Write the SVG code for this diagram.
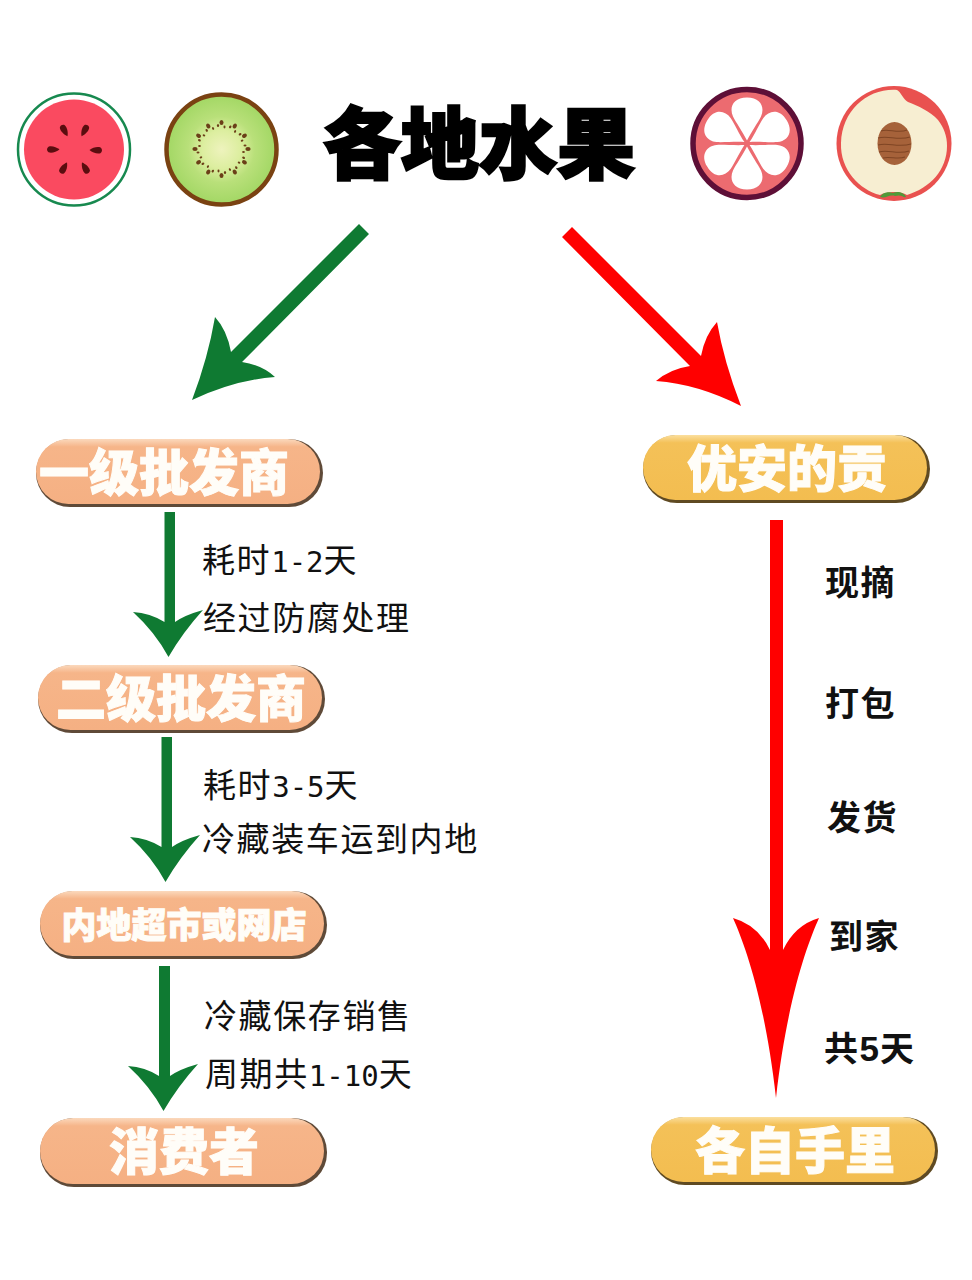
<svg xmlns="http://www.w3.org/2000/svg" width="972" height="1280" viewBox="0 0 972 1280">
<style>
.cjk{font-family:"Noto Sans CJK SC","Noto Sans CJK JP",sans-serif}
.title{font-size:78px;font-weight:900;fill:#000;stroke:#000;stroke-width:2.5px;text-anchor:middle}
.pt{font-weight:900;fill:#fffdf8;stroke:#fffdf8;stroke-width:1px;text-anchor:middle}
.lb{font-size:33px;fill:#111;letter-spacing:1.6px}
.lb tspan{letter-spacing:0;font-size:29px;font-family:"DejaVu Sans Mono",monospace}
.rl{font-size:34px;font-weight:700;fill:#111;letter-spacing:1.600px}
.rl tspan{font-family:"Liberation Sans",sans-serif;letter-spacing:1px;font-size:35px}
.g{fill:#0f7a32}.r{fill:#ff0000}
</style>
<defs>
<linearGradient id="og" x1="0" y1="0" x2="0" y2="1"><stop offset="0" stop-color="#fbd9bd"/><stop offset="0.12" stop-color="#f6b589"/><stop offset="1" stop-color="#f5b083"/></linearGradient>
<linearGradient id="yg" x1="0" y1="0" x2="0" y2="1"><stop offset="0" stop-color="#fbdf9e"/><stop offset="0.12" stop-color="#f4c158"/><stop offset="1" stop-color="#f3bd50"/></linearGradient>
<radialGradient id="kw"><stop offset="0" stop-color="#eef3bd"/><stop offset="0.35" stop-color="#dcee9f"/><stop offset="0.6" stop-color="#b9e07a"/><stop offset="1" stop-color="#a2d764"/></radialGradient>
<path id="ws" d="M0,-15 C2.500,-18 4,-23 2.800,-26 C1.500,-28 -1.500,-28 -2.800,-26 C-4,-23 -2.500,-18 0,-15Z" fill="#5a0d0f"/>
<g id="ks" fill="#6b3f18"><ellipse cx="0" cy="-26.500" rx="2" ry="2.600"/><ellipse cx="-3.500" cy="-23.500" rx="1.100" ry="1.500"/><ellipse cx="3" cy="-22" rx="1" ry="1.400"/></g>
<path id="pe" d="M0,-3 C-4,-11 -11,-21 -14,-27 C-18,-36 -14,-46 0,-46 C14,-46 18,-36 14,-27 C11,-21 4,-11 0,-3Z" fill="#fff"/>
</defs>
<rect width="972" height="1280" fill="#fff"/>

<g id="watermelon">
<circle cx="74" cy="149.500" r="56" fill="#fff" stroke="#17894f" stroke-width="2.500"/>
<circle cx="74" cy="149.500" r="50" fill="#fa4a60"/>
<g transform="translate(74.500,149.500)"><use href="#ws" transform="rotate(-28)"/><use href="#ws" transform="rotate(28)"/><use href="#ws" transform="rotate(92)"/><use href="#ws" transform="rotate(150)"/><use href="#ws" transform="rotate(-150)"/><use href="#ws" transform="rotate(-90)"/></g>
</g>
<g id="kiwi">
<circle cx="221.500" cy="149.500" r="55" fill="url(#kw)" stroke="#7a4212" stroke-width="4.500"/>
<g transform="translate(221.500,149)"><use href="#ks"/><use href="#ks" transform="rotate(30)"/><use href="#ks" transform="rotate(60)"/><use href="#ks" transform="rotate(90)"/><use href="#ks" transform="rotate(120)"/><use href="#ks" transform="rotate(150)"/><use href="#ks" transform="rotate(180)"/><use href="#ks" transform="rotate(210)"/><use href="#ks" transform="rotate(240)"/><use href="#ks" transform="rotate(270)"/><use href="#ks" transform="rotate(300)"/><use href="#ks" transform="rotate(330)"/></g>
</g>
<g id="title"><text class="cjk title" x="479" y="173">各地水果</text></g>
<g id="mangosteen">
<circle cx="747" cy="143.500" r="54" fill="#ec6b70" stroke="#5e0f37" stroke-width="5.500"/>
<g transform="translate(747,143.500)"><use href="#pe"/><use href="#pe" transform="rotate(60)"/><use href="#pe" transform="rotate(120)"/><use href="#pe" transform="rotate(180)"/><use href="#pe" transform="rotate(240)"/><use href="#pe" transform="rotate(300)"/></g>
</g>
<g id="peach">
<circle cx="894" cy="143.500" r="57.500" fill="#e9514f"/>
<path d="M897,90 C868,88 842,110 841,143 C840,170 860,190 880,195 C885,192 900,190 907,195 C930,188 947,170 947,146 C947,136 944,128 938,120 C930,111 918,106 908,102 C903,99 901,92 897,90Z" fill="#f7eed2"/>
<path d="M880,197 C884,191 890,192 893,193 C897,191 904,192 906,197 C903,198 902,194 895,196 C889,194 886,199 880,197Z" fill="#4f9a38"/>
<ellipse cx="894.500" cy="143.500" rx="17" ry="21.500" fill="#a6623a"/>
<path d="M881,131 C888,128 898,134 907,130 M878,138 C888,135 898,141 910,137 M878,145 C888,142 898,148 911,144 M879,152 C888,149 898,155 909,151 M883,158 C890,156 898,160 905,157" stroke="#7f4524" stroke-width="1.100" fill="none"/>
</g>

<g id="connectors">
<path class="g" d="M359,224 L369,234 L242,362 Q262,365 275,377 Q235,380 192,400 Q208,358 215,317 Q227,330 231,352Z"/>
<path class="r" d="M572,227 L562,237 L690,366 Q670,369 656,381 Q698,384 741,406 Q724,362 717,322 Q705,335 701,356Z"/>
<path class="g" d="M164.500,512 H175 V622 Q185,615 203,610 Q183,632 168.500,657 Q155,632 133,612 Q150,613 164.500,622Z"/>
<path class="g" d="M161.500,737 H172 V847 Q182,840 200,835 Q180,857 165.500,882 Q152,857 130,837 Q147,838 161.500,847Z"/>
<path class="g" d="M159,966 H170 V1076 Q180,1069 198,1064 Q178,1086 163.500,1111 Q150,1086 128,1066 Q145,1067 159,1076Z"/>
<path class="r" d="M770,520 H783 V950 Q795,925 819,918 C807,945 787,1000 776,1098 C765,1000 745,945 733,918 Q758,925 770,950Z"/>
</g>

<g id="n1" transform="translate(36,439)"><rect width="287" height="68" rx="34" fill="#5f4a38"/><rect width="284" height="65" rx="32.500" fill="url(#og)"/><text class="cjk pt" x="128" y="52" font-size="50">一级批发商</text></g>
<g id="n2" transform="translate(38,665)"><rect width="287" height="68" rx="34" fill="#5f4a38"/><rect width="284" height="65" rx="32.500" fill="url(#og)"/><text class="cjk pt" x="143" y="52" font-size="50">二级批发商</text></g>
<g id="n3" transform="translate(40,891)"><rect width="287" height="68" rx="34" fill="#5f4a38"/><rect width="284" height="65" rx="32.500" fill="url(#og)"/><text class="cjk pt" x="144" y="47" font-size="35">内地超市或网店</text></g>
<g id="n4" transform="translate(40,1118)"><rect width="287" height="69" rx="34" fill="#5f4a38"/><rect width="284" height="66" rx="33" fill="url(#og)"/><text class="cjk pt" x="144" y="52" font-size="50">消费者</text></g>
<g id="n5" transform="translate(643,435)"><rect width="287" height="68" rx="34" fill="#5f4a22"/><rect width="284" height="65" rx="32.500" fill="url(#yg)"/><text class="cjk pt" x="144" y="52" font-size="50">优安的贡</text></g>
<g id="n6" transform="translate(651,1117)"><rect width="287" height="68" rx="34" fill="#5f4a22"/><rect width="284" height="65" rx="32.500" fill="url(#yg)"/><text class="cjk pt" x="144" y="52" font-size="50">各自手里</text></g>

<g id="labels">
<text class="cjk lb" x="202" y="572">耗时<tspan>1-2</tspan>天</text>
<text class="cjk lb" x="203" y="630">经过防腐处理</text>
<text class="cjk lb" x="203" y="797">耗时<tspan>3-5</tspan>天</text>
<text class="cjk lb" x="202" y="851">冷藏装车运到内地</text>
<text class="cjk lb" x="204" y="1028">冷藏保存销售</text>
<text class="cjk lb" x="205" y="1086">周期共<tspan>1-10</tspan>天</text>
<text class="cjk rl" x="825" y="595">现摘</text>
<text class="cjk rl" x="825" y="716">打包</text>
<text class="cjk rl" x="827" y="830">发货</text>
<text class="cjk rl" x="829" y="949">到家</text>
<text class="cjk rl" x="824" y="1061">共<tspan>5</tspan>天</text>
</g>
</svg>
